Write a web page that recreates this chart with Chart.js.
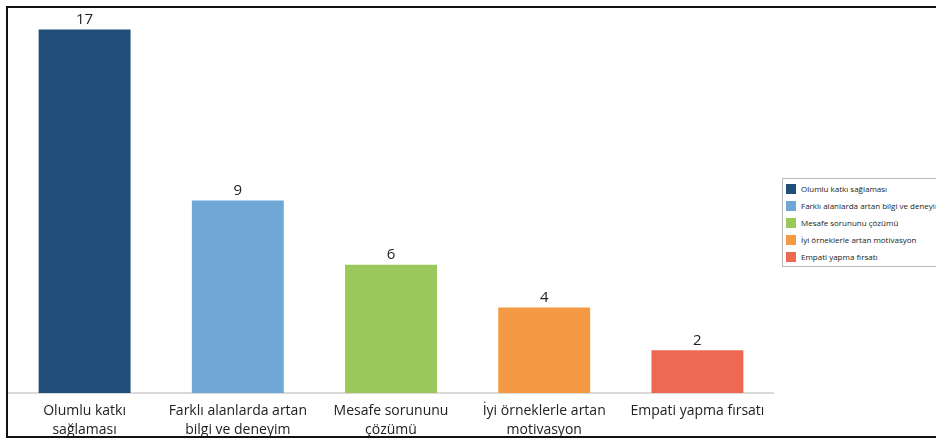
<!DOCTYPE html>
<html>
<head>
<meta charset="utf-8">
<script src="https://cdn.jsdelivr.net/npm/chart.js@4/dist/chart.umd.min.js"></script>
<style>
  html, body { margin:0; padding:0; overflow:hidden; background:#fff; }
  #frame { position:absolute; left:6px; top:6px; width:1000px; height:428px; border:2px solid #111; }
  #wrap { position:absolute; left:0; top:0; width:766px; height:428px; }
  #legend { position:absolute; left:774px; top:170px; border:1px solid #b8b8b8; background:#fff;
            padding:1px 40px 1px 3px; font:8px "Open Sans", sans-serif; color:#222; white-space:nowrap; }
  #legend ul { list-style:none; margin:0; padding:0; }
  #legend li { display:flex; align-items:center; height:17px; }
  #legend span { display:inline-block; width:10px; height:10px; margin-right:5px; }
</style>
</head>
<body>
<div id="frame">
  <div id="wrap"><canvas id="bars"></canvas></div>
  <div id="legend"></div>
</div>
<script>
//-----------------Data
const categories = ['Olumlu katkı sağlaması', 'Farklı alanlarda artan bilgi ve deneyim', 'Mesafe sorununu çözümü', 'İyi örneklerle artan motivasyon', 'Empati yapma fırsatı']
const tickLines = [['Olumlu katkı', 'sağlaması'], ['Farklı alanlarda artan', 'bilgi ve deneyim'], ['Mesafe sorununu', 'çözümü'], ['İyi örneklerle artan', 'motivasyon'], ['Empati yapma fırsatı']]
const counts = [17, 9, 6, 4, 2]
const barColors = ['#1F4E79', '#6FA7D7', '#9BC85B', '#F59A44', '#EE6852']

//-----------------Plugins
const valueLabels = {
  id: 'valueLabels',
  afterDatasetsDraw(chart) {
    const ctx = chart.ctx
    ctx.save()
    ctx.font = '15px "Open Sans", sans-serif'
    ctx.fillStyle = '#222'
    ctx.textAlign = 'center'
    ctx.textBaseline = 'bottom'
    chart.getDatasetMeta(0).data.forEach((bar, i) => {
      ctx.fillText(counts[i], bar.x, bar.y - 2)
    })
    ctx.restore()
  }
}

const htmlLegend = {
  id: 'htmlLegend',
  afterUpdate(chart) {
    const box = document.getElementById('legend')
    const ul = document.createElement('ul')
    chart.data.labels.forEach((lab, i) => {
      const li = document.createElement('li')
      const sw = document.createElement('span')
      sw.style.background = chart.data.datasets[0].backgroundColor[i]
      li.appendChild(sw)
      li.appendChild(document.createTextNode(lab))
      ul.appendChild(li)
    })
    box.innerHTML = ''
    box.appendChild(ul)
  }
}

//-----------------Chart
const ctx = document.getElementById('bars').getContext('2d')
const chart = new Chart(ctx, {
  type: 'bar',
  data: {
    labels: categories,
    datasets: [{
      label: 'Sayı',
      data: counts,
      backgroundColor: barColors,
      borderWidth: 0,
      barPercentage: 0.6,
      categoryPercentage: 1
    }]
  },
  options: {
    responsive: true,
    maintainAspectRatio: false,
    animation: false,
    layout: { padding: 0 },
    plugins: {
      legend: { display: false },
      tooltip: { enabled: false }
    },
    scales: {
      x: {
        grid: { display: false },
        border: { display: true, color: '#d9d9d9', width: 2 },
        ticks: {
          padding: 1,
          maxRotation: 0,
          autoSkip: false,
          color: '#222',
          font: { family: '"Open Sans", sans-serif', size: 14, lineHeight: 1.35 },
          callback: (v, i) => tickLines[i]
        },
        afterFit: s => { s.height = 43 }
      },
      y: {
        display: false,
        min: 0,
        max: 18
      }
    }
  },
  plugins: [valueLabels, htmlLegend]
})
</script>
</body>
</html>
